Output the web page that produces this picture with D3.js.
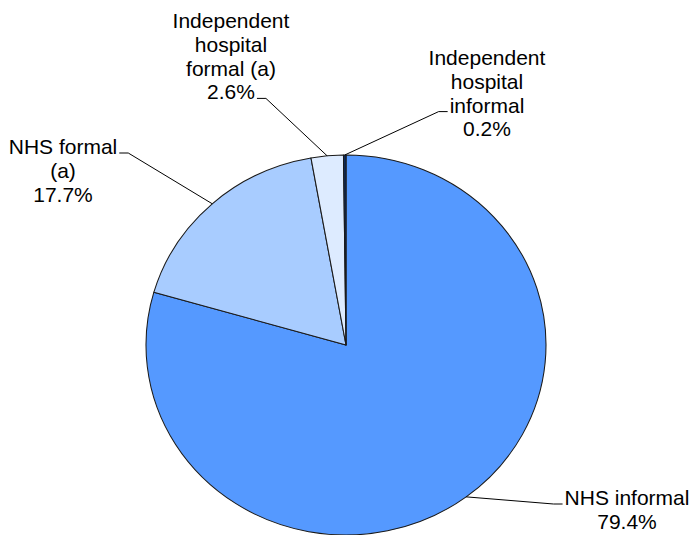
<!DOCTYPE html>
<html>
<head>
<meta charset="utf-8">
<script src="https://cdn.jsdelivr.net/npm/d3@7"></script>
<style>
  html, body { margin: 0; padding: 0; background: #fff; }
  svg { display: block; }
  text { font-family: "Liberation Sans", Arial, sans-serif; font-size: 21px; fill: #000; }
</style>
</head>
<body>
<script>
// ---- data ----
const categories = ["NHS informal", "NHS formal (a)", "Independent hospital formal (a)", "Independent hospital informal"];
const values = [79.4, 17.7, 2.6, 0.2];
const valueLabels = ["79.4%", "17.7%", "2.6%", "0.2%"];
const labelLines = [
  ["NHS informal", "79.4%"],
  ["NHS formal", "(a)", "17.7%"],
  ["Independent", "hospital", "formal (a)", "2.6%"],
  ["Independent", "hospital", "informal", "0.2%"]
];
const colors = ["#5599FF", "#A8CCFF", "#DDEBFF", "#0B2B60"];

// ---- layout (not data) ----
const W = 693, H = 535;
const cx = 346, cy = 345, rx = 200, ry = 190;
const lineH = 23.8;
// label block: center x, first baseline, leader anchor line index, side (-1 leader goes left)
const labelLayout = [
  { x: 627, y: 505, anchorLine: 0, side: -1 },
  { x: 63,  y: 154, anchorLine: 0, side: 1 },
  { x: 231, y: 28,  anchorLine: 3, side: 1 },
  { x: 487, y: 65,  anchorLine: 2, side: -1 }
];

const svg = d3.select("body").append("svg").attr("width", W).attr("height", H);

const pie = d3.pie().sort(null).value(d => d);
const arcs = pie(values);
const arc = d3.arc().innerRadius(0).outerRadius(rx);
const edge = d3.arc().innerRadius(rx).outerRadius(rx);

const g = svg.append("g").attr("transform", `translate(${cx},${cy}) scale(1,${ry / rx})`);
g.selectAll("path").data(arcs).join("path")
  .attr("d", arc)
  .attr("fill", (d, i) => colors[i])
  .attr("stroke", "#1a1a1a")
  .attr("stroke-width", 1.05)
  .attr("stroke-linejoin", "round");

// labels
const ctx = document.createElement("canvas").getContext("2d");
ctx.font = '21px "Liberation Sans", Arial, sans-serif';

arcs.forEach((a, i) => {
  const L = labelLayout[i];
  const lines = labelLines[i];
  const t = svg.append("text").attr("text-anchor", "middle");
  lines.forEach((ln, k) => {
    t.append("tspan").attr("x", L.x).attr("y", L.y + k * lineH).text(ln);
  });
  // leader
  const c = edge.centroid(a);
  const px = cx + c[0], py = cy + c[1] * ry / rx;
  const anchorText = lines[L.anchorLine];
  const w = ctx.measureText(anchorText).width;
  const ay = L.y + L.anchorLine * lineH - 1;
  const ax = L.side > 0 ? L.x + w / 2 + 2 : L.x - w / 2 - 2;
  const ex = ax + L.side * 9;
  svg.append("path")
    .attr("d", d3.line()([[px, py], [ex, ay], [ax, ay]]))
    .attr("fill", "none")
    .attr("stroke", "#000")
    .attr("stroke-width", 1);
});
</script>
</body>
</html>
